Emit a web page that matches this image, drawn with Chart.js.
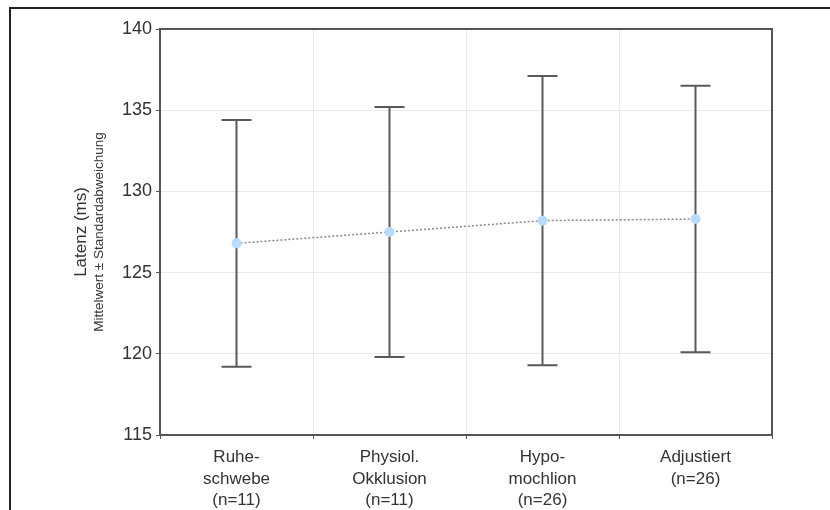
<!DOCTYPE html>
<html>
<head>
<meta charset="utf-8">
<script src="https://cdn.jsdelivr.net/npm/chart.js@4"></script>
<style>
  body { margin: 0; background: #fff; }
  #wrap { position: relative; width: 830px; height: 510px; overflow: hidden; }
  #frame { position: absolute; left: 9px; top: 7px; width: 830px; height: 510px;
           border-left: 2px solid #222; border-top: 2px solid #222; }
  canvas { position: absolute; left: 0; top: 0; }
</style>
</head>
<body>
<div id="wrap">
  <div id="frame"></div>
  <canvas id="myChart" width="830" height="510"></canvas>
</div>
<script>
// Gruppen und Werte (Mittelwert ± Standardabweichung)
var groups = [
  ["Ruhe-", "schwebe", "(n=11)"],
  ["Physiol.", "Okklusion", "(n=11)"],
  ["Hypo-", "mochlion", "(n=26)"],
  ["Adjustiert", "(n=26)"]
];
var means = [126.8, 127.5, 128.2, 128.3];
var upper = [134.4, 135.2, 137.1, 136.5];
var lower = [119.2, 119.8, 119.3, 120.1];
var yTicks = [115, 120, 125, 130, 135, 140];

var fontFamily = "'Liberation Sans', Arial, sans-serif";

// Fehlerbalken + Rahmen
var errorBars = {
  id: 'errorBars',
  beforeDatasetsDraw: function(chart) {
    var ctx = chart.ctx;
    var xs = chart.scales.x, ys = chart.scales.y;
    ctx.save();
    ctx.strokeStyle = "#5a5a5a";
    ctx.lineWidth = 2;
    for (var i = 0; i < means.length; i++) {
      var x = xs.getPixelForValue(i);
      var yU = ys.getPixelForValue(upper[i]);
      var yL = ys.getPixelForValue(lower[i]);
      ctx.beginPath();
      ctx.moveTo(x, yU); ctx.lineTo(x, yL);
      ctx.moveTo(x - 15, yU); ctx.lineTo(x + 15, yU);
      ctx.moveTo(x - 15, yL); ctx.lineTo(x + 15, yL);
      ctx.stroke();
    }
    var a = chart.chartArea;
    ctx.strokeStyle = "#555";
    ctx.strokeRect(a.left, a.top, a.right - a.left, a.bottom - a.top);
    ctx.restore();
  },
  afterDraw: function(chart) {
    var ctx = chart.ctx;
    var a = chart.chartArea;
    var cy = (a.top + a.bottom) / 2;
    ctx.save();
    ctx.fillStyle = "#333";
    ctx.textAlign = "center";
    ctx.textBaseline = "middle";
    ctx.translate(81, cy);
    ctx.rotate(-Math.PI / 2);
    ctx.font = "17px " + fontFamily;
    ctx.fillText("Latenz (ms)", 0, 0);
    ctx.font = "13.5px " + fontFamily;
    ctx.fillText("Mittelwert ± Standardabweichung", 0, 18);
    ctx.restore();
  }
};

var ctx = document.getElementById("myChart");
var myChart = new Chart(ctx, {
  type: 'line',
  data: {
    labels: groups,
    datasets: [{
      data: means,
      borderColor: "#888",
      borderWidth: 1.5,
      borderDash: [2, 2],
      pointRadius: 5,
      pointBackgroundColor: "#b8dcff",
      pointBorderWidth: 0,
      tension: 0
    }]
  },
  options: {
    responsive: false,
    animation: false,
    layout: { padding: { top: 29, right: 58, left: 0, bottom: 0 } },
    plugins: { legend: { display: false }, tooltip: { enabled: false } },
    scales: {
      x: {
        offset: true,
        grid: { offset: true, color: "#e6ebeb", tickColor: "#555", tickLength: 4 },
        border: { display: false },
        ticks: { color: "#333", font: { family: fontFamily, size: 17, lineHeight: 1.25 }, padding: 8, maxRotation: 0 },
        afterFit: function(scale) { scale.height = 75; }
      },
      y: {
        min: yTicks[0],
        max: yTicks[yTicks.length - 1],
        afterBuildTicks: function(scale) {
          scale.ticks = yTicks.map(function(v) { return { value: v }; });
        },
        grid: { color: "#e6ebeb", tickColor: "#555", tickLength: 4 },
        border: { display: false },
        ticks: { color: "#333", font: { family: fontFamily, size: 18 }, padding: 4 },
        afterFit: function(scale) { scale.width = 160; }
      }
    }
  },
  plugins: [errorBars]
});
</script>
</body>
</html>
